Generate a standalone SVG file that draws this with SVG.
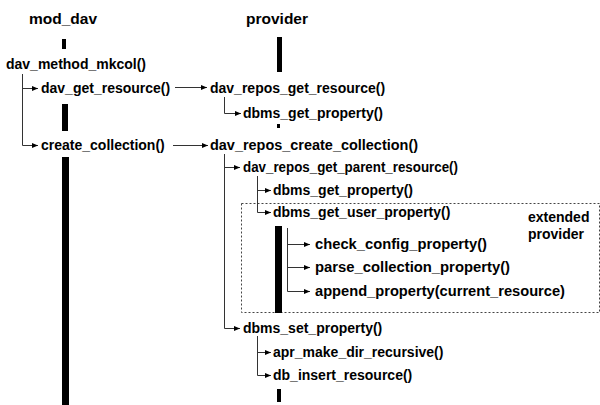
<svg xmlns="http://www.w3.org/2000/svg" width="600" height="405" viewBox="0 0 600 405">
<defs>
<marker id="ah" viewBox="0 0 6 5" refX="6" refY="2.5" markerWidth="6" markerHeight="5" markerUnits="userSpaceOnUse" orient="auto">
<path d="M0,0 L6,2.5 L0,5 Z" fill="#000"/>
</marker>
<style>
text{font-family:"Liberation Sans",Arial,sans-serif;font-weight:bold;font-size:14px;fill:#000}
.title{font-size:15.5px}
.c{fill:none;stroke:#333;stroke-width:1}
.a{marker-end:url(#ah)}
.bar{fill:#000}
.box{fill:none;stroke:#444;stroke-width:1;stroke-dasharray:2,2}
</style>
</defs>
<rect width="600" height="405" fill="#fff"/>

<g id="lane-mod_dav">
<text class="title" x="29" y="24">mod_dav</text>
<rect class="bar" x="62" y="39" width="4" height="10"/>
<rect class="bar" x="62" y="104" width="6" height="27"/>
<rect class="bar" x="62" y="157" width="7" height="248"/>
</g>
<g id="lane-provider">
<text class="title" x="246" y="24">provider</text>
<rect class="bar" x="277" y="37" width="5" height="35"/>
<rect class="bar" x="277" y="124" width="3" height="4"/>
<rect class="bar" x="277" y="389" width="4" height="13"/>
</g>

<g id="extended-provider">
<rect class="box" x="241.5" y="203.5" width="358" height="109"/>
<text x="528" y="222">extended</text>
<text x="528" y="239">provider</text>
<rect class="bar" x="275" y="226" width="7" height="87"/>
</g>

<g id="connectors">
<path class="c a" d="M22.5,74 V88.5 H38"/>
<path class="c a" d="M22.5,88 V145.5 H38"/>
<path class="c a" d="M175,87.5 H207"/>
<path class="c a" d="M224.5,97 V113.5 H241"/>
<path class="c a" d="M173,145.5 H208"/>
<path class="c a" d="M224.5,154 V167.5 H240"/>
<path class="c a" d="M224.5,167 V328.5 H240"/>
<path class="c a" d="M257.5,176 V190.5 H271"/>
<path class="c a" d="M257.5,190 V212.5 H271"/>
<path class="c a" d="M287.5,228 V244.5 H310"/>
<path class="c a" d="M287.5,244 V267.5 H310"/>
<path class="c a" d="M287.5,267 V291.5 H310"/>
<path class="c a" d="M257.5,336 V352.5 H271"/>
<path class="c a" d="M257.5,352 V375.5 H271"/>
</g>

<g id="dav_method_mkcol"><text x="6" y="69">dav_method_mkcol()</text></g>
<g id="dav_get_resource"><text x="41" y="93">dav_get_resource()</text></g>
<g id="dav_repos_get_resource"><text x="210" y="93">dav_repos_get_resource()</text></g>
<g id="dbms_get_property_1"><text x="243" y="118">dbms_get_property()</text></g>
<g id="create_collection"><text x="41" y="150">create_collection()</text></g>
<g id="dav_repos_create_collection"><text x="210" y="150" textLength="208" lengthAdjust="spacingAndGlyphs">dav_repos_create_collection()</text></g>
<g id="dav_repos_get_parent_resource"><text x="243" y="172" textLength="215" lengthAdjust="spacingAndGlyphs">dav_repos_get_parent_resource()</text></g>
<g id="dbms_get_property_2"><text x="273" y="195">dbms_get_property()</text></g>
<g id="dbms_get_user_property"><text x="273" y="217">dbms_get_user_property()</text></g>
<g id="check_config_property"><text x="315" y="249" textLength="172" lengthAdjust="spacingAndGlyphs">check_config_property()</text></g>
<g id="parse_collection_property"><text x="315" y="272" textLength="195" lengthAdjust="spacingAndGlyphs">parse_collection_property()</text></g>
<g id="append_property"><text x="315" y="296" textLength="250" lengthAdjust="spacingAndGlyphs">append_property(current_resource)</text></g>
<g id="dbms_set_property"><text x="243" y="333">dbms_set_property()</text></g>
<g id="apr_make_dir_recursive"><text x="273" y="357">apr_make_dir_recursive()</text></g>
<g id="db_insert_resource"><text x="273" y="380">db_insert_resource()</text></g>
</svg>
